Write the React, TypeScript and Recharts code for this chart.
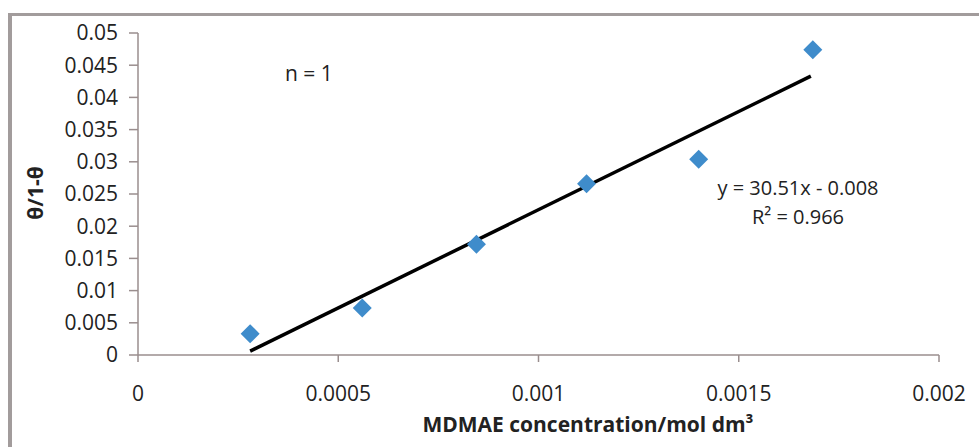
import React from "react";
import { ComposedChart, Scatter, Line, XAxis, YAxis } from "recharts";

const concentration = [0.00028, 0.00056, 0.000845, 0.00112, 0.0014, 0.001685];
const thetaRatio = [0.0033, 0.0073, 0.0172, 0.0266, 0.0304, 0.0474];
const trendX = [0.00028, 0.00168];
const trendY = [0.0006, 0.0433];
const xTicks = [0, 0.0005, 0.001, 0.0015, 0.002];
const yTicks = [0, 0.005, 0.01, 0.015, 0.02, 0.025, 0.03, 0.035, 0.04, 0.045, 0.05];

const points = concentration.map((x, i) => ({ x, y: thetaRatio[i] }));
const trend = trendX.map((x, i) => ({ x, y: trendY[i] }));

const FONT = "'Open Sans', sans-serif";
const AXIS = "#9a8e8e";

const Diamond = (props: any) => {
  const { cx, cy } = props;
  const r = 9.5;
  return (
    <polygon
      points={`${cx},${cy - r} ${cx + r},${cy} ${cx},${cy + r} ${cx - r},${cy}`}
      fill="#3f8ccb"
    />
  );
};

export default function App() {
  return (
    <div style={{ position: "relative", width: 979, height: 447, overflow: "hidden", background: "#fff", fontFamily: FONT }}>
      <style>{`body{margin:0}`}</style>
      <div
        style={{
          position: "absolute",
          left: 8,
          top: 13,
          width: 1000,
          height: 500,
          borderTop: "3px solid #a29c9c",
          borderLeft: "4px solid #a29c9c",
          boxSizing: "border-box",
        }}
      />
      <div style={{ position: "absolute", left: 0, top: 0 }}>
        <ComposedChart
          width={979}
          height={447}
          margin={{ top: 33, right: 40, bottom: 0, left: 0 }}
        >
          <XAxis
            type="number"
            dataKey="x"
            domain={[0, 0.002]}
            ticks={xTicks}
            allowDataOverflow
            stroke={AXIS}
            strokeWidth={1.5}
            tickSize={7}
            tickMargin={24}
            height={92}
            tick={{ fontSize: 21, fill: "#222", fontFamily: FONT }}
          />
          <YAxis
            type="number"
            dataKey="y"
            domain={[0, 0.05]}
            ticks={yTicks}
            allowDataOverflow
            stroke={AXIS}
            strokeWidth={1.5}
            tickSize={9}
            tickMargin={11}
            width={138}
            tick={{ fontSize: 21, fill: "#222", fontFamily: FONT }}
          />
          <Scatter data={points} dataKey="y" shape={<Diamond />} isAnimationActive={false} />
          <Line
            data={trend}
            dataKey="y"
            type="linear"
            stroke="#000"
            strokeWidth={3.5}
            dot={false}
            activeDot={false}
            isAnimationActive={false}
          />
        </ComposedChart>
      </div>
      <div style={{ position: "absolute", left: 285, top: 58, fontSize: 21, color: "#222", whiteSpace: "nowrap", lineHeight: "30px" }}>
        n = 1
      </div>
      <div style={{ position: "absolute", left: 698, top: 173, width: 200, textAlign: "center", fontSize: 20, color: "#222", lineHeight: "29px", whiteSpace: "nowrap" }}>
        <div>y = 30.51x - 0.008</div>
        <div>R² = 0.966</div>
      </div>
      <div
        style={{
          position: "absolute",
          left: 35,
          top: 193,
          transform: "translate(-50%, -50%) rotate(-90deg)",
          fontSize: 21,
          fontWeight: 700,
          color: "#222",
          whiteSpace: "nowrap",
        }}
      >
        θ/1-θ
      </div>
      <div
        style={{
          position: "absolute",
          left: 588,
          top: 424,
          transform: "translate(-50%, -50%)",
          fontSize: 21,
          fontWeight: 700,
          color: "#222",
          whiteSpace: "nowrap",
        }}
      >
        MDMAE concentration/mol dm³
      </div>
    </div>
  );
}
